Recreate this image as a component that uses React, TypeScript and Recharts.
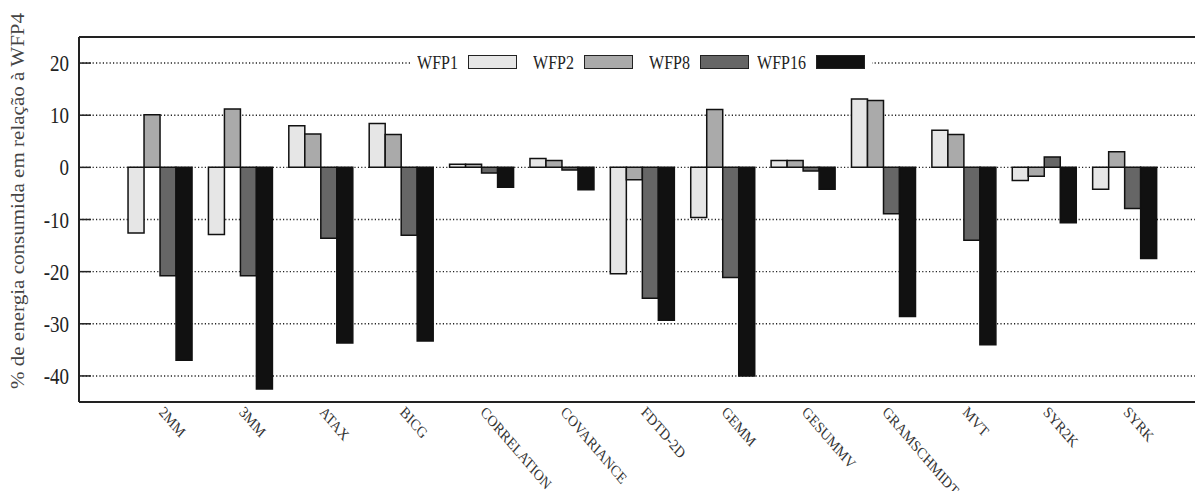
import React from 'react';
import { BarChart, Bar, XAxis, YAxis, CartesianGrid, Legend, ReferenceLine } from 'recharts';

// benchmarks (PolyBench kernels)
const categories = [
    '2MM', '3MM', 'ATAX', 'BICG', 'CORRELATION', 'COVARIANCE', 'FDTD-2D',
    'GEMM', 'GESUMMV', 'GRAMSCHMIDT', 'MVT', 'SYR2K', 'SYRK',
];

// % energy relative to WFP4, one value per benchmark
const wfp1 = [-12.6, -12.9, 8.0, 8.4, 0.6, 1.7, -20.4, -9.6, 1.3, 13.1, 7.1, -2.5, -4.2];
const wfp2 = [10.1, 11.2, 6.4, 6.3, 0.6, 1.3, -2.4, 11.1, 1.3, 12.8, 6.3, -1.7, 3.0];
const wfp8 = [-20.8, -20.8, -13.6, -13.0, -1.1, -0.5, -25.1, -21.1, -0.7, -8.9, -14.0, 2.0, -7.9];
const wfp16 = [-37.0, -42.5, -33.7, -33.3, -3.8, -4.3, -29.3, -40.0, -4.2, -28.6, -34.0, -10.6, -17.5];

const yTicks = [-40, -30, -20, -10, 0, 10, 20];

const series = [
    { key: 'wfp1', name: 'WFP1', fill: '#e6e6e6' },
    { key: 'wfp2', name: 'WFP2', fill: '#aaaaaa' },
    { key: 'wfp8', name: 'WFP8', fill: '#666666' },
    { key: 'wfp16', name: 'WFP16', fill: '#111111' },
];

const data = categories.map((name, i) => ({
    name,
    wfp1: wfp1[i],
    wfp2: wfp2[i],
    wfp8: wfp8[i],
    wfp16: wfp16[i],
}));

const FONT = '"Liberation Serif", "Times New Roman", serif';
// the whole figure is a bit taller than wide, stretch text to match
const STRETCH = 1.17;

const YTick = (props: any) => {
    const { x, y, payload } = props;
    return (
        <g>
            <line x1={x} x2={x + 12} y1={y} y2={y} stroke="#222" strokeWidth={1.5} />
            <text
                transform={`translate(${x - 10},${y}) scale(1,${STRETCH})`}
                dy="0.36em"
                textAnchor="end"
                fontFamily={FONT}
                fontSize={19}
                fill="#222"
            >
                {payload.value}
            </text>
        </g>
    );
};

const XTick = (props: any) => {
    const { x, y, payload } = props;
    return (
        <text
            transform={`translate(${x - 2},${y + 11}) scale(1,${STRETCH}) rotate(45)`}
            textAnchor="start"
            fontFamily={FONT}
            fontSize={13.5}
            fill="#333"
        >
            {payload.value}
        </text>
    );
};

const YLabel = () => (
    <text
        transform={`translate(24,201) scale(1,${STRETCH}) rotate(-90)`}
        textAnchor="middle"
        fontFamily={FONT}
        fontSize={18}
        fill="#444"
    >
        % de energia consumida em relação à WFP4
    </text>
);

// gnuplot style key: label first, then the sample box
const renderLegend = () => (
    <div style={{ position: 'relative', width: 462, height: 20, background: '#fff' }}>
        {series.map((s, i) => (
            <React.Fragment key={s.key}>
                <span
                    style={{
                        position: 'absolute',
                        left: 116 * i - 20,
                        width: 68,
                        top: 0,
                        textAlign: 'right',
                        fontFamily: FONT,
                        fontSize: 16,
                        lineHeight: '20px',
                        color: '#222',
                        transform: 'scaleY(1.2)',
                    }}
                >
                    {s.name}
                </span>
                <div
                    style={{
                        position: 'absolute',
                        left: 58 + 116 * i,
                        top: 2,
                        width: 49,
                        height: 14,
                        boxSizing: 'border-box',
                        background: s.fill,
                        border: '1.5px solid #222',
                    }}
                />
            </React.Fragment>
        ))}
    </div>
);

export default function App() {
    return (
        <div style={{ position: 'absolute', left: 0, top: 0, width: 1195, height: 491, overflow: 'hidden', background: '#fff' }}>
            <BarChart
                width={1220}
                height={491}
                data={data}
                margin={{ top: 37, right: 14, bottom: 0, left: 0 }}
                barGap={0}
                barCategoryGap="10%"
            >
                <CartesianGrid vertical={false} stroke="#222" strokeWidth={1.4} strokeDasharray="1.2 2.2" />
                <XAxis
                    dataKey="name"
                    height={89}
                    interval={0}
                    padding={{ left: 41, right: 41 }}
                    tickLine={false}
                    tickSize={0}
                    tickMargin={0}
                    axisLine={{ stroke: '#222', strokeWidth: 2 }}
                    tick={<XTick />}
                />
                <YAxis
                    width={79}
                    domain={[-45, 25]}
                    ticks={yTicks}
                    tickLine={false}
                    tickSize={0}
                    tickMargin={0}
                    axisLine={{ stroke: '#222', strokeWidth: 2 }}
                    tick={<YTick />}
                    label={<YLabel />}
                />
                <ReferenceLine y={25} stroke="#222" strokeWidth={2} />
                <Legend
                    layout="horizontal"
                    verticalAlign="middle"
                    align="center"
                    wrapperStyle={{ top: 53, left: 410, width: 462, height: 20 }}
                    content={renderLegend}
                />
                {series.map((s) => (
                    <Bar
                        key={s.key}
                        dataKey={s.key}
                        name={s.name}
                        fill={s.fill}
                        stroke="#111"
                        strokeWidth={1.5}
                        isAnimationActive={false}
                    />
                ))}
            </BarChart>
        </div>
    );
}
